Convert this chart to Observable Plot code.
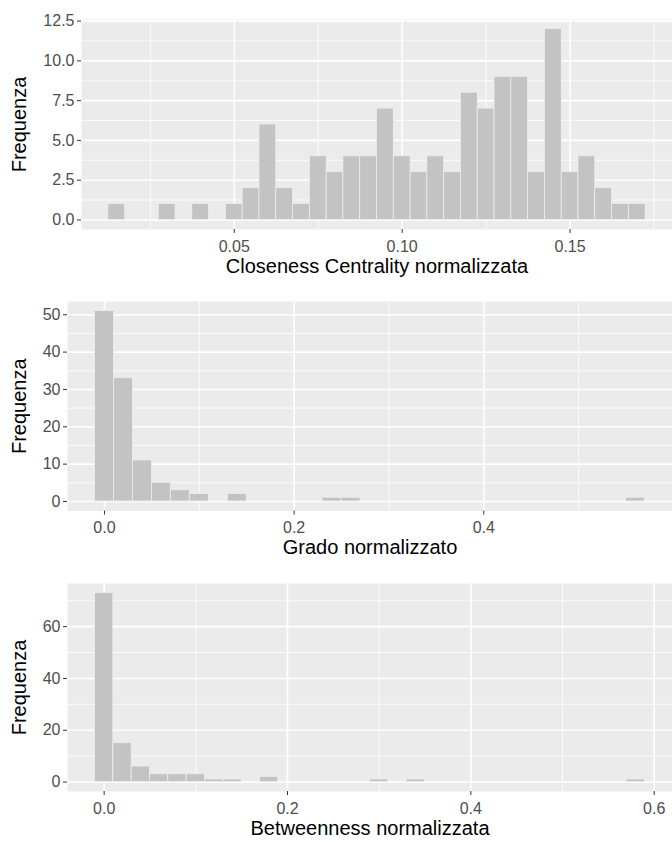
<!DOCTYPE html>
<html>
<head>
<meta charset="utf-8">
<script src="https://cdn.jsdelivr.net/npm/d3@7"></script>
<script src="https://cdn.jsdelivr.net/npm/@observablehq/plot@0.6"></script>
<style>
  html, body { margin: 0; padding: 0; background: white; }
  #chart { width: 672px; }
  #chart svg { display: block; }
</style>
</head>
<body>
<div id="chart"></div>
<script>
// ---------- Data ----------
// Closeness centrality: bin centres (binwidth 0.005) and counts
const closenessBinWidth = 0.005;
const closenessCenters = [0.015, 0.030, 0.040, 0.050, 0.055, 0.060, 0.065, 0.070, 0.075, 0.080,
                          0.085, 0.090, 0.095, 0.100, 0.105, 0.110, 0.115, 0.120, 0.125, 0.130,
                          0.135, 0.140, 0.145, 0.150, 0.155, 0.160, 0.165, 0.170];
const closenessCounts  = [1, 1, 1, 1, 2, 6, 2, 1, 4, 3,
                          4, 4, 7, 4, 3, 4, 3, 8, 7, 9,
                          9, 3, 12, 3, 4, 2, 1, 1];

// Degree (grado): bin centres (binwidth 0.02) and counts
const gradoBinWidth = 0.02;
const gradoCenters = [0.00, 0.02, 0.04, 0.06, 0.08, 0.10, 0.14, 0.24, 0.26, 0.56];
const gradoCounts  = [51, 33, 11, 5, 3, 2, 2, 1, 1, 1];

// Betweenness: bin centres (binwidth 0.02) and counts
const betweenBinWidth = 0.02;
const betweenCenters = [0.00, 0.02, 0.04, 0.06, 0.08, 0.10, 0.12, 0.14, 0.18, 0.30, 0.34, 0.58];
const betweenCounts  = [73, 15, 6, 3, 3, 3, 1, 1, 2, 1, 1, 1];

// Axis ticks
const closenessXTicks = [0.05, 0.10, 0.15];
const closenessXMinor = [0.025, 0.075, 0.125, 0.175];
const closenessYTicks = [0, 2.5, 5, 7.5, 10, 12.5];
const closenessYMinor = [1.25, 3.75, 6.25, 8.75, 11.25];

const gradoXTicks = [0.0, 0.2, 0.4];
const gradoXMinor = [0.1, 0.3, 0.5];
const gradoYTicks = [0, 10, 20, 30, 40, 50];
const gradoYMinor = [5, 15, 25, 35, 45];

const betweenXTicks = [0.0, 0.2, 0.4, 0.6];
const betweenXMinor = [0.1, 0.3, 0.5];
const betweenYTicks = [0, 20, 40, 60];
const betweenYMinor = [10, 30, 50, 70];

const xTitles = ["Closeness Centrality normalizzata", "Grado normalizzato", "Betweenness normalizzata"];
const yTitle = "Frequenza";

// ---------- Helpers ----------
function bins(centers, counts, w) {
  return centers.map((c, i) => ({x1: c - w / 2, x2: c + w / 2, n: counts[i]}));
}
function expand(lo, hi, f = 0.05) {
  const d = (hi - lo) * f;
  return [lo - d, hi + d];
}

const FONT = "'Liberation Sans', Arial, Helvetica, sans-serif";

function panel({data, w, xTicks, xMinor, yTicks, yMinor, xFmt, yFmt, xTitle,
                height, marginTop, marginBottom, marginLeft, yTitleX}) {
  const xlo = d3.min(data, d => d.x1), xhi = d3.max(data, d => d.x2);
  const ymax = d3.max(data, d => d.n);
  return Plot.plot({
    width: 672,
    height,
    marginTop,
    marginBottom,
    marginLeft,
    marginRight: 0,
    style: {fontFamily: FONT, background: "white", overflow: "visible"},
    x: {domain: expand(xlo, xhi), label: null},
    y: {domain: expand(0, ymax), label: null},
    marks: [
      Plot.frame({fill: "#EBEBEB", stroke: null}),
      Plot.gridY({ticks: yMinor, stroke: "white", strokeOpacity: 1, strokeWidth: 0.8}),
      Plot.gridX({ticks: xMinor, stroke: "white", strokeOpacity: 1, strokeWidth: 0.8}),
      Plot.gridY({ticks: yTicks, stroke: "white", strokeOpacity: 1, strokeWidth: 1.6}),
      Plot.gridX({ticks: xTicks, stroke: "white", strokeOpacity: 1, strokeWidth: 1.6}),
      Plot.rectY(data, {x1: "x1", x2: "x2", y: "n", fill: "#C3C3C3", stroke: "#EDEDED", strokeWidth: 0.8}),
      Plot.axisX({ticks: xTicks, tickFormat: xFmt, tickSize: 4, tickPadding: 7,
                  stroke: "#333333", fill: "#4D4D4D", fontSize: 16, label: null}),
      Plot.axisY({ticks: yTicks, tickFormat: yFmt, tickSize: 4, tickPadding: 3,
                  stroke: "#333333", fill: "#4D4D4D", fontSize: 16, label: null}),
      Plot.text([xTitle], {text: d => d, frameAnchor: "bottom", dy: 43, fontSize: 20, fill: "black"}),
      Plot.text([yTitle], {text: d => d, frameAnchor: "left", textAnchor: "middle", lineAnchor: "middle",
                           dx: yTitleX - marginLeft, rotate: -90, fontSize: 20, fill: "black"})
    ]
  });
}

const chart = document.getElementById("chart");
chart.append(panel({
  data: bins(closenessCenters, closenessCounts, closenessBinWidth),
  xTicks: closenessXTicks, xMinor: closenessXMinor, yTicks: closenessYTicks, yMinor: closenessYMinor,
  xFmt: d => d.toFixed(2), yFmt: d => d.toFixed(1), xTitle: xTitles[0],
  height: 285, marginTop: 19, marginBottom: 56, marginLeft: 81, yTitleX: 19
}));
chart.append(panel({
  data: bins(gradoCenters, gradoCounts, gradoBinWidth),
  xTicks: gradoXTicks, xMinor: gradoXMinor, yTicks: gradoYTicks, yMinor: gradoYMinor,
  xFmt: d => d.toFixed(1), yFmt: d => d.toFixed(0), xTitle: xTitles[1],
  height: 280, marginTop: 16, marginBottom: 54.5, marginLeft: 67, yTitleX: 19
}));
chart.append(panel({
  data: bins(betweenCenters, betweenCounts, betweenBinWidth),
  xTicks: betweenXTicks, xMinor: betweenXMinor, yTicks: betweenYTicks, yMinor: betweenYMinor,
  xFmt: d => d.toFixed(1), yFmt: d => d.toFixed(0), xTitle: xTitles[2],
  height: 278, marginTop: 18, marginBottom: 52, marginLeft: 67, yTitleX: 19
}));
</script>
</body>
</html>
